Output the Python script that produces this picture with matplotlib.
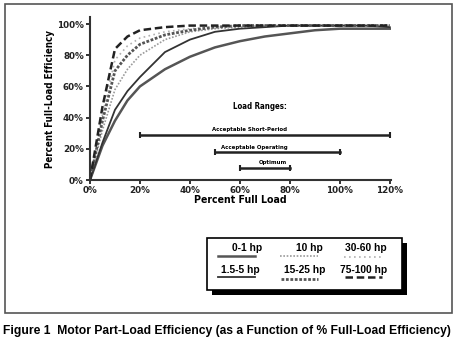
import numpy as np
import matplotlib
matplotlib.use('Agg')
import matplotlib.pyplot as plt
from matplotlib.patches import Rectangle

# percent of full load
load = [0, 5, 10, 15, 20, 30, 40, 50, 60, 70, 80, 90, 100, 110, 120]
# percent of full-load efficiency, by motor size
eff_0_1 = [0, 22, 38, 51, 60, 71, 79, 85, 89, 92, 94, 96, 97, 97, 97]
eff_1_5 = [0, 24, 45, 57, 66, 82, 90, 95, 97, 98, 99, 99, 99, 99, 98]
eff_10 = [0, 32, 58, 71, 80, 90, 95, 97, 98, 99, 99, 99, 99, 99, 99]
eff_15_25 = [0, 38, 70, 80, 87, 93, 96, 98, 99, 99, 99, 99, 99, 99, 99]
eff_30_60 = [0, 42, 77, 86, 91, 95, 97, 98, 99, 99, 99, 99, 99, 99, 99]
eff_75_100 = [0, 47, 84, 92, 96, 98, 99, 99, 99, 99, 99, 99, 99, 99, 99]

# load ranges
range_names = ['Acceptable Short-Period', 'Acceptable Operating', 'Optimum']
range_start = [20, 50, 60]
range_end = [120, 100, 80]
range_y = [29, 18, 8]

xticks = [0, 20, 40, 60, 80, 100, 120]
yticks = [0, 20, 40, 60, 80, 100]

FONT = ['DejaVu Sans']
ARIAL = ['Liberation Sans', 'DejaVu Sans']
COND = dict(family=FONT, stretch='condensed', weight='bold')

W, H = 459, 351
fig = plt.figure(figsize=(W / 100, H / 100), dpi=100)

# pixel-coord overlay: frame, legend box, caption
bg = fig.add_axes([0, 0, 1, 1])
bg.set_xlim(0, W)
bg.set_ylim(H, 0)
bg.axis('off')
bg.add_patch(Rectangle((5, 4), 447, 309, fill=False, ec='#555555', lw=1.2))
bg.text(3, 331, 'Figure 1  Motor Part-Load Efficiency (as a Function of % Full-Load Efficiency)',
        family=ARIAL, weight='bold', fontsize=8.7, va='center', ha='left')

bg.add_patch(Rectangle((212, 243), 195, 52, fc='black', ec='none'))
bg.add_patch(Rectangle((207, 238), 195, 52, fc='white', ec='black', lw=1.2))
leg_names = ['0-1 hp', '10 hp', '30-60 hp', '1.5-5 hp', '15-25 hp', '75-100 hp']
leg_tx = [262, 323, 387, 260, 325, 387]
leg_ty = [248, 248, 248, 270, 270, 270]
leg_lx = [(218, 255), (280, 318), (344, 383), (218, 255), (281, 318), (345, 382)]
leg_ly = [256, 256, 257, 277, 279, 277]
styles = [
    dict(color='#555555', ls='-', lw=1.8),
    dict(color='#9a9a9a', ls=(0, (1, 1)), lw=1.2),
    dict(color='#b0b0b0', ls=(0, (1, 2)), lw=1.2),
    dict(color='#333333', ls='-', lw=1.3),
    dict(color='#555555', ls=(0, (1, 0.6)), lw=2.0),
    dict(color='#222222', ls=(0, (3, 1.5)), lw=1.8),
]
for i in range(6):
    bg.text(leg_tx[i], leg_ty[i], leg_names[i], family=ARIAL,
            weight='bold', fontsize=7.4, ha='right', va='center')
    bg.plot(leg_lx[i], [leg_ly[i], leg_ly[i]], **styles[i])

# main chart
ax = fig.add_axes([90 / W, (H - 180) / H, 301 / W, 163 / H])
ax.set_xlim(0, 120.5)
ax.set_ylim(0, 104.5)
series = [eff_0_1, eff_10, eff_30_60, eff_1_5, eff_15_25, eff_75_100]
for s, st in zip(series, styles):
    ax.plot(load, s, **st)

for name, a, b, y in zip(range_names, range_start, range_end, range_y):
    ax.plot([a, b], [y, y], color='#222222', lw=1.8, marker='|', ms=4, mew=1.5)
    ax.text(79, y + 1.5, name, fontsize=4.3, ha='right', va='bottom', **COND)
ax.text(79, 47, 'Load Ranges:', fontsize=5.7, ha='right', va='center', **COND)

for sp in ['top', 'right']:
    ax.spines[sp].set_visible(False)
for sp in ['left', 'bottom']:
    ax.spines[sp].set_linewidth(1.5)
    ax.spines[sp].set_color('#333333')
ax.set_xticks(xticks)
ax.set_xticklabels([f'{t}%' for t in xticks])
ax.set_yticks(yticks)
ax.set_yticklabels([f'{t}%' for t in yticks])
ax.tick_params(direction='out', length=3, width=1.3, pad=1.5, colors='#222222')
for lab in ax.get_xticklabels() + ax.get_yticklabels():
    lab.set_family(FONT)
    lab.set_weight('bold')
    lab.set_fontsize(6.3)
ax.set_xlabel('Percent Full Load', fontsize=7.6, labelpad=0, **COND)
ax.set_ylabel('Percent Full-Load Efficiency', fontsize=7, labelpad=1, **COND)

fig.savefig('out.png', dpi=100)
